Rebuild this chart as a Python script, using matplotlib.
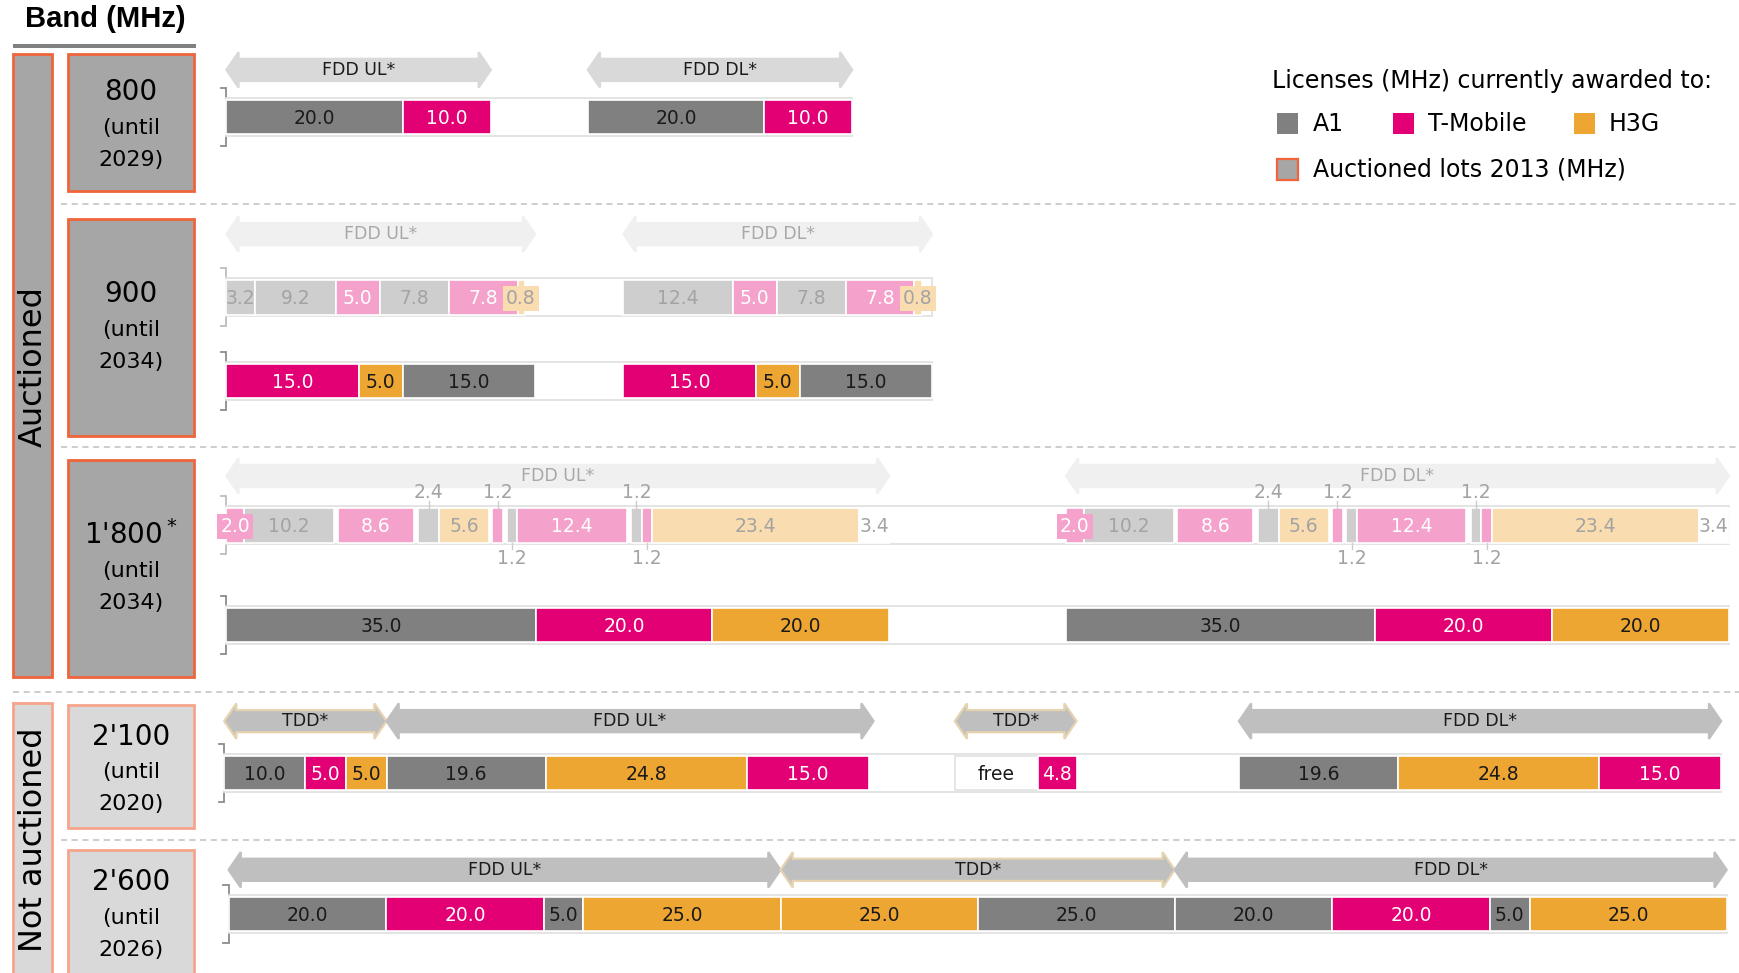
"""
Austrian mobile spectrum: licence holders per band before / after the 2013 auction
"""

import matplotlib
matplotlib.use('Agg')
import matplotlib.pyplot as plt
from matplotlib.patches import Rectangle, Polygon

# ---- data (MHz blocks, left to right; '' = unassigned / duplex gap) ----
b800_vals = [20.0, 10.0, 11.0, 20.0, 10.0]
b800_own = ['A1', 'TM', '', 'A1', 'TM']

b900_old_ul_vals = [3.2, 9.2, 5.0, 7.8, 7.8, 0.8, 1.2]
b900_old_ul_own = ['A1', 'A1', 'TM', 'A1', 'TM', 'H3G', '']
b900_old_dl_vals = [12.4, 5.0, 7.8, 7.8, 0.8, 1.2]
b900_old_dl_own = ['A1', 'TM', 'A1', 'TM', 'H3G', '']
b900_gap = 10.0
b900_vals = [15.0, 5.0, 15.0, 10.0, 15.0, 5.0, 15.0]
b900_own = ['TM', 'H3G', 'A1', '', 'TM', 'H3G', 'A1']

# 1800 old allocation, identical in UL and DL
b1800_old_vals = [2.0, 10.2, 0.4, 8.6, 0.5, 2.4, 5.6, 0.4, 1.2, 0.4, 1.2, 12.4, 0.5, 1.2, 1.2, 23.4, 3.4]
b1800_old_own = ['TM', 'A1', '', 'TM', '', 'A1', 'H3G', '', 'TM', '', 'A1', 'TM', '', 'A1', 'TM', 'H3G', 'open']
b1800_gap = 20.0
b1800_vals = [35.0, 20.0, 20.0, 20.0, 35.0, 20.0, 20.0]
b1800_own = ['A1', 'TM', 'H3G', '', 'A1', 'TM', 'H3G']

b2100_vals = [10.0, 5.0, 5.0, 19.6, 24.8, 15.0, 10.6, 10.2, 4.8, 20.0, 19.6, 24.8, 15.0]
b2100_own = ['A1', 'TM', 'H3G', 'A1', 'H3G', 'TM', '', 'free', 'TM', '', 'A1', 'H3G', 'TM']

b2600_vals = [20.0, 20.0, 5.0, 25.0, 25.0, 25.0, 20.0, 20.0, 5.0, 25.0]
b2600_own = ['A1', 'TM', 'A1', 'H3G', 'H3G', 'A1', 'A1', 'TM', 'A1', 'H3G']

# duplex arrows (from MHz, to MHz, label)
b800_arrows = [(0, 30, 'FDD UL*'), (41, 71, 'FDD DL*')]
b900_arrows = [(0, 35, 'FDD UL*'), (45, 80, 'FDD DL*')]
b1800_arrows = [(0, 75, 'FDD UL*'), (95, 170, 'FDD DL*')]
b2100_arrows = [(0, 20, 'TDD*'), (20, 80, 'FDD UL*'), (90, 105, 'TDD*'), (125, 184.4, 'FDD DL*')]
b2600_arrows = [(0, 70, 'FDD UL*'), (70, 120, 'TDD*'), (120, 190, 'FDD DL*')]

band_names = ['800', '900', "1'800$^*$", "2'100", "2'600"]
band_until = ['2029', '2034', '2034', '2020', '2026']
legend_names = ['A1', 'T-Mobile', 'H3G']

# ---- styling ----
OWNER_COL = {'A1': '#808080', 'TM': '#e20074', 'H3G': '#eea632', 'open': 'white', 'free': 'white'}
FADED_COL = {'A1': '#cecece', 'TM': '#f4a2cb', 'H3G': '#f9dcb0', 'open': 'white'}
TEXT_COL = {'A1': '#1a1a1a', 'TM': 'white', 'H3G': '#1a1a1a', 'open': '#1a1a1a', 'free': '#1a1a1a'}
FADED_TXT = {'A1': '#a3a3a3', 'TM': 'white', 'H3G': '#a3a3a3', 'open': '#a3a3a3'}
ORANGE = '#f0643c'
SALMON = '#f6a58c'
NARROW = ['Liberation Sans Narrow', 'DejaVu Sans']

W, H = 1568, 877
fig = plt.figure(figsize=(17.4, 9.73), dpi=100)
base = fig.add_axes([0, 0, 1, 1])
base.set_xlim(0, W)
base.set_ylim(H, 0)
base.axis('off')

BAR_FONT = dict(fontsize=13.5, family=NARROW)


def section_axes(x0, x1, span):
    ax = fig.add_axes([x0 / W, 0, (x1 - x0) / W, 1])
    ax.set_xlim(0, span)
    ax.set_ylim(H, 0)
    ax.axis('off')
    return ax


def bracket(x, yc, col='#8c8c8c'):
    base.plot([x - 5, x, x, x - 5], [yc - 26, yc - 26, yc + 26, yc + 26],
              color=col, lw=1.3, solid_joinstyle='miter')


def draw_arrows(ax, arrows, yc, scale, fc, tc, tdd_edge=None):
    hl = 11 / scale
    for a, b, lab in arrows:
        pts = [(a, yc), (a + hl, yc - 16), (a + hl, yc - 10), (b - hl, yc - 10), (b - hl, yc - 16),
               (b, yc), (b - hl, yc + 16), (b - hl, yc + 10), (a + hl, yc + 10), (a + hl, yc + 16)]
        ec = tdd_edge if (tdd_edge and lab.startswith('TDD')) else fc
        ax.add_patch(Polygon(pts, closed=True, fc=fc, ec=ec, lw=1.6, clip_on=False, zorder=1))
        ax.text((a + b) / 2, yc, lab, ha='center', va='center', color=tc, fontsize=12.5,
                family=NARROW, clip_on=False, zorder=3)


def draw_row(ax, vals, owners, yc, faded=False, places=None, h=31):
    cols = FADED_COL if faded else OWNER_COL
    tcols = FADED_TXT if faded else TEXT_COL
    total = sum(vals)
    ax.add_patch(Rectangle((0, yc - h / 2 - 1.5), total, h + 3, fc='white', ec='#e2e2e2',
                           lw=1.3, clip_on=False, zorder=1))
    left = 0.0
    for i, (v, o) in enumerate(zip(vals, owners)):
        place = places[i] if places else 'in'
        if o:
            ec = '#e2e2e2' if o == 'free' else 'white'
            ax.add_patch(Rectangle((left, yc - h / 2), v, h, fc=cols[o], ec=ec, lw=1.2,
                                   clip_on=False, zorder=2))
            lab = 'free' if o == 'free' else f'{v:.1f}'
            cx = left + v / 2
            if place == 'in':
                ax.text(cx, yc + 1, lab, ha='center', va='center', color=tcols[o],
                        clip_on=False, zorder=4, **BAR_FONT)
            elif place == 'box':
                ax.text(cx, yc + 1, lab, ha='center', va='center', color=tcols[o],
                        clip_on=False, zorder=5,
                        bbox=dict(boxstyle='square,pad=0.18', fc=cols[o], ec='none'), **BAR_FONT)
            elif place == 'up':
                ax.plot([cx, cx], [yc - h / 2 - 6, yc - h / 2], color='#cccccc', lw=1, clip_on=False)
                ax.text(cx, yc - h / 2 - 14, lab, ha='center', va='center', color='#a3a3a3',
                        clip_on=False, zorder=4, **BAR_FONT)
            elif place == 'down':
                ax.plot([cx, cx], [yc + h / 2, yc + h / 2 + 6], color='#cccccc', lw=1, clip_on=False)
                ax.text(cx, yc + h / 2 + 14, lab, ha='center', va='center', color='#a3a3a3',
                        clip_on=False, zorder=4, **BAR_FONT)
        left += v


# ---- left-hand labels ----
base.text(95, 17, 'Band (MHz)', ha='center', va='center', fontsize=21, fontweight='bold',
          family=['Liberation Sans', 'DejaVu Sans'])
base.add_patch(Rectangle((12, 39.5), 165, 3.5, fc='#808080', ec='none'))

base.add_patch(Rectangle((12, 49), 35, 561, fc='#a6a6a6', ec=ORANGE, lw=2))
base.text(30, 330, 'Auctioned', rotation=90, ha='center', va='center', fontsize=23)
base.add_patch(Rectangle((12, 634), 35, 260, fc='#d9d9d9', ec=SALMON, lw=2, clip_on=False))
base.text(30, 757, 'Not auctioned', rotation=90, ha='center', va='center', fontsize=23)

band_boxes = [(49, 172), (197, 393), (415, 610), (635, 746), (766, 894)]
for k, (y0, y1) in enumerate(band_boxes):
    auctioned = k < 3
    base.add_patch(Rectangle((61, y0), 114, y1 - y0, fc='#a6a6a6' if auctioned else '#d9d9d9',
                             ec=ORANGE if auctioned else SALMON, lw=2, clip_on=False))
    ym = (y0 + min(y1, 877)) / 2 if k < 3 else y0 + 59
    if k == 0:
        ym = 113
    base.text(118, ym - 30, band_names[k], ha='center', va='center', fontsize=20)
    base.text(118, ym + 2, '(until', ha='center', va='center', fontsize=16)
    base.text(118, ym + 31, band_until[k] + ')', ha='center', va='center', fontsize=16)

# dashed separators
for y, xs in [(184, 55), (403, 55), (624, 12), (757, 55)]:
    base.plot([xs, W], [y, y], color='#c0c0c0', lw=1.1, ls=(0, (4, 3)))

# ---- legend ----
base.text(1146, 73, 'Licenses (MHz) currently awarded to:', ha='left', va='center', fontsize=17)
for (x, name, col) in zip([1151, 1255, 1418], legend_names, ['#808080', '#e20074', '#eea632']):
    base.add_patch(Rectangle((x, 102), 19, 19, fc=col, ec='none'))
    base.text(x + 32, 112, name, ha='left', va='center', fontsize=17)
base.add_patch(Rectangle((1151, 143), 19, 19, fc='#a6a6a6', ec=ORANGE, lw=1.6))
base.text(1183, 153, 'Auctioned lots 2013 (MHz)', ha='left', va='center', fontsize=17)

# ---- 800 MHz ----
span = sum(b800_vals)
ax = section_axes(204, 768, span)
draw_arrows(ax, b800_arrows, 63, (768 - 204) / span, '#d9d9d9', '#1a1a1a')
draw_row(ax, b800_vals, b800_own, 105.5)
bracket(204, 105.5)

# ---- 900 MHz ----
old_vals = b900_old_ul_vals + [b900_gap] + b900_old_dl_vals
old_own = b900_old_ul_own + [''] + b900_old_dl_own
old_place = ['in', 'in', 'in', 'in', 'in', 'box', 'in', 'in', 'in', 'in', 'in', 'in', 'box', 'in']
span = sum(b900_vals)
ax = section_axes(204, 840, span)
draw_arrows(ax, b900_arrows, 211, (840 - 204) / span, '#f0f0f0', '#a8a8a8')
draw_row(ax, old_vals, old_own, 268, faded=True, places=old_place)
draw_row(ax, b900_vals, b900_own, 343.5)
bracket(204, 268, '#bdbdbd')
bracket(204, 343.5)

# ---- 1800 MHz ----
ul_place = ['box', 'in', 'in', 'in', 'in', 'up', 'in', 'in', 'up', 'in', 'down', 'in', 'in',
            'up', 'down', 'in', 'in']
old_vals = b1800_old_vals + [b1800_gap] + b1800_old_vals
old_own = b1800_old_own + [''] + b1800_old_own
old_place = ul_place + ['in'] + ul_place
span = sum(b1800_vals)
ax = section_axes(204, 1558, span)
draw_arrows(ax, b1800_arrows, 429, (1558 - 204) / span, '#f0f0f0', '#a8a8a8')
draw_row(ax, old_vals, old_own, 473.5, faded=True, places=old_place)
draw_row(ax, b1800_vals, b1800_own, 563.5)
bracket(204, 473.5, '#bdbdbd')
bracket(204, 563.5)

# ---- 2100 MHz ----
span = sum(b2100_vals)
ax = section_axes(202, 1551, span)
draw_arrows(ax, b2100_arrows, 650, (1551 - 202) / span, '#bfbfbf', '#1a1a1a', tdd_edge='#e6d3b0')
draw_row(ax, b2100_vals, b2100_own, 697)
bracket(202, 697)

# ---- 2600 MHz ----
span = sum(b2600_vals)
ax = section_axes(206, 1556, span)
draw_arrows(ax, b2600_arrows, 784, (1556 - 206) / span, '#bfbfbf', '#1a1a1a', tdd_edge='#e6d3b0')
draw_row(ax, b2600_vals, b2600_own, 824)
bracket(206, 824)

fig.savefig('out.png', dpi=100)
